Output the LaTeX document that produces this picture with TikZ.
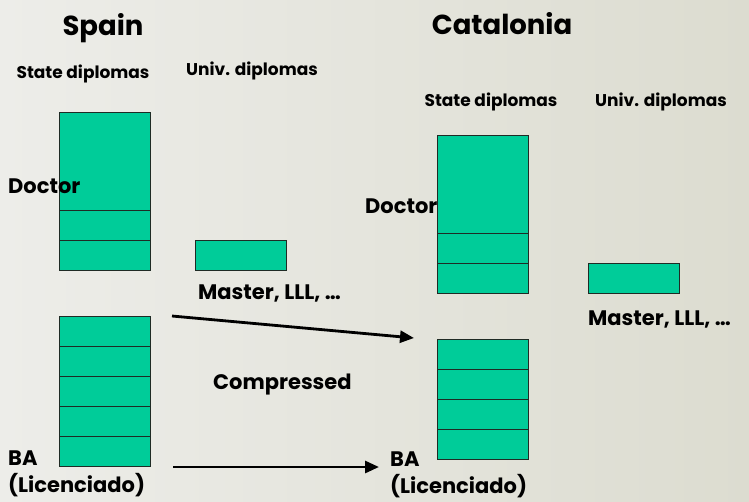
\documentclass[tikz,border=0pt]{standalone}
\usepackage{fontspec}
\setmainfont{Poppins}
\usepackage{xcolor}
\usepackage{tikz}
\usetikzlibrary{arrows.meta,positioning}
\definecolor{bgl}{HTML}{EDEDE9}
\definecolor{bgm}{HTML}{F2F2EE}
\definecolor{bgr}{HTML}{DCDCD0}
\definecolor{cell}{HTML}{00CC99}
\definecolor{edge}{HTML}{1F2B25}
\definecolor{ink}{HTML}{000000}
\tikzset{
  cellbox/.style={draw=edge, fill=cell, line width=0.8pt, minimum width=91pt, minimum height=30pt, inner sep=0pt, anchor=north west},
  arr/.style={draw=ink, line width=2.8pt, -{Triangle[length=14pt,width=12pt]}},
  title/.style={text=ink, inner sep=0pt, anchor=base, font=\fontsize{27.5}{32}\selectfont\bfseries},
  head/.style={text=ink, inner sep=0pt, anchor=base, font=\fontsize{17}{20}\selectfont\bfseries},
  lab/.style={text=ink, inner sep=0pt, anchor=base west, align=left, font=\fontsize{21}{27}\selectfont\bfseries},
}

\begin{document}
\begin{tikzpicture}[x=1pt,y=-1pt]
% background
\shade[left color=bgl, middle color=bgm, right color=bgr] (0,0) rectangle (749,501);
\useasboundingbox (0,0) rectangle (749,501);

% Spain: state diplomas
\node[cellbox, minimum height=98pt] (sdoc) at (59,112) {};
\foreach \i in {1,2}{
  \node[cellbox] (sdoc\i) at (59,{180+30*\i}) {};
}
\foreach \i in {1,...,5}{
  \node[cellbox] (sba\i) at (59,{286+30*\i}) {};
}
% Spain: univ. diplomas
\node[cellbox] (suniv) at (195,240) {};

% Catalonia: state diplomas
\node[cellbox, minimum height=98pt] (cdoc) at (437,135) {};
\foreach \i in {1,2}{
  \node[cellbox] (cdoc\i) at (437,{203+30*\i}) {};
}
\foreach \i in {1,...,4}{
  \node[cellbox] (cba\i) at (437,{309+30*\i}) {};
}
% Catalonia: univ. diplomas
\node[cellbox] (cuniv) at (588,263) {};

% titles and headings
\node[title] (spain) at (103,35) {Spain};
\node[title] (catalonia) at (502,34) {Catalonia};
\node[head] (sstate) at (83,78) {State diplomas};
\node[head] (suni) at (252,75) {Univ. diplomas};
\node[head] (cstate) at (491,106) {State diplomas};
\node[head] (cuni) at (661,106) {Univ. diplomas};

% level labels
\node[lab] (sdoctor) at (8,193) {Doctor};
\node[lab] (cdoctor) at (365,213) {Doctor};
\node[lab] (smaster) at (198,299) {Master, LLL, …};
\node[lab] (cmaster) at (588,325) {Master, LLL, …};
\node[lab] (comp) at (213,389) {Compressed};
\node[lab] (sba) at (8,492) {BA\\(Licenciado)};
\node[lab] (cba) at (390,493) {BA\\(Licenciado)};

% arrows
\coordinate (a1) at (172,316);
\coordinate (b1) at (414,338);
\coordinate (a2) at (173,467);
\coordinate (b2) at (379,467);
\draw[arr] (a1) -- (b1);
\draw[arr] (a2) -- (b2);
\end{tikzpicture}
\end{document}
